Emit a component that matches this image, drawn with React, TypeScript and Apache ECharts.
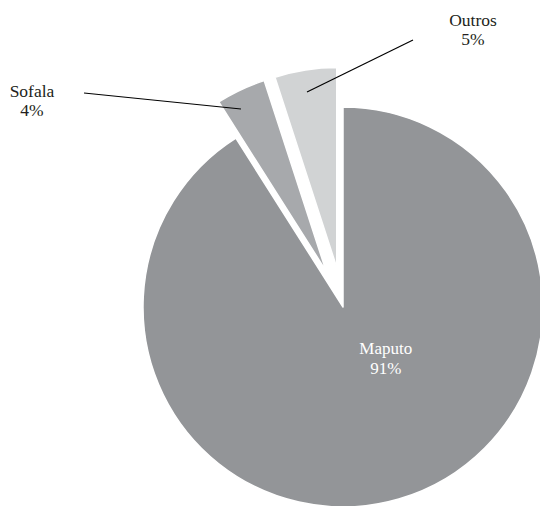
import React, { useEffect, useRef } from "react";
import * as echarts from "echarts";

const categories = ["Maputo", "Sofala", "Outros"];
const values = [91, 4, 5];
const percentLabels = ["91%", "4%", "5%"];
const colors = ["#939598", "#a7a9ac", "#d1d3d4"];
const exploded = [false, true, true];

const FONT = "'Liberation Serif', 'Times New Roman', serif";

export default function App() {
  const ref = useRef<HTMLDivElement>(null);
  useEffect(() => {
    if (!ref.current) return;
    const chart = echarts.init(ref.current, null, { renderer: "svg" });
    const outerText = (i: number, x: number, y: number) => ({
      type: "text",
      x,
      y,
      z: 100,
      style: {
        text: `${categories[i]}\n${percentLabels[i]}`,
        fontFamily: FONT,
        fontSize: 17.5,
        lineHeight: 19,
        fill: "#231f20",
        align: "center",
        verticalAlign: "middle",
      },
    });
    chart.setOption({
      animation: false,
      backgroundColor: "#ffffff",
      series: [
        {
          type: "pie",
          z: 1,
          center: [343, 307],
          radius: 200,
          startAngle: 90,
          clockwise: true,
          selectedMode: "multiple",
          selectedOffset: 40,
          emphasis: { disabled: true },
          itemStyle: { borderColor: "#ffffff", borderWidth: 1.5 },
          label: { show: false },
          labelLine: { show: false },
          labelLayout: { dx: 14, dy: -47 },
          data: categories.map((name, i) => ({
            name,
            value: values[i],
            selected: exploded[i],
            itemStyle: { color: colors[i] },
            select: { itemStyle: { color: colors[i] } },
            label:
              i === 0
                ? {
                    show: true,
                    position: "inside",
                    color: "#ffffff",
                    fontFamily: FONT,
                    fontSize: 17,
                    lineHeight: 20,
                    formatter: (p: any) =>
                      `${p.name}\n${percentLabels[p.dataIndex]}`,
                  }
                : { show: false },
          })),
        },
      ],
      graphic: [
        outerText(1, 32, 100),
        outerText(2, 473, 29),
        {
          type: "polyline",
          z: 100,
          shape: { points: [[84, 93], [241, 109]] },
          style: { stroke: "#000000", lineWidth: 1.2, fill: "none" },
        },
        {
          type: "polyline",
          z: 100,
          shape: { points: [[413, 40], [307, 92]] },
          style: { stroke: "#000000", lineWidth: 1.2, fill: "none" },
        },
      ],
    });
    return () => chart.dispose();
  }, []);
  return (
    <div
      ref={ref}
      style={{ position: "absolute", left: 0, top: 0, width: 540, height: 506 }}
    />
  );
}
